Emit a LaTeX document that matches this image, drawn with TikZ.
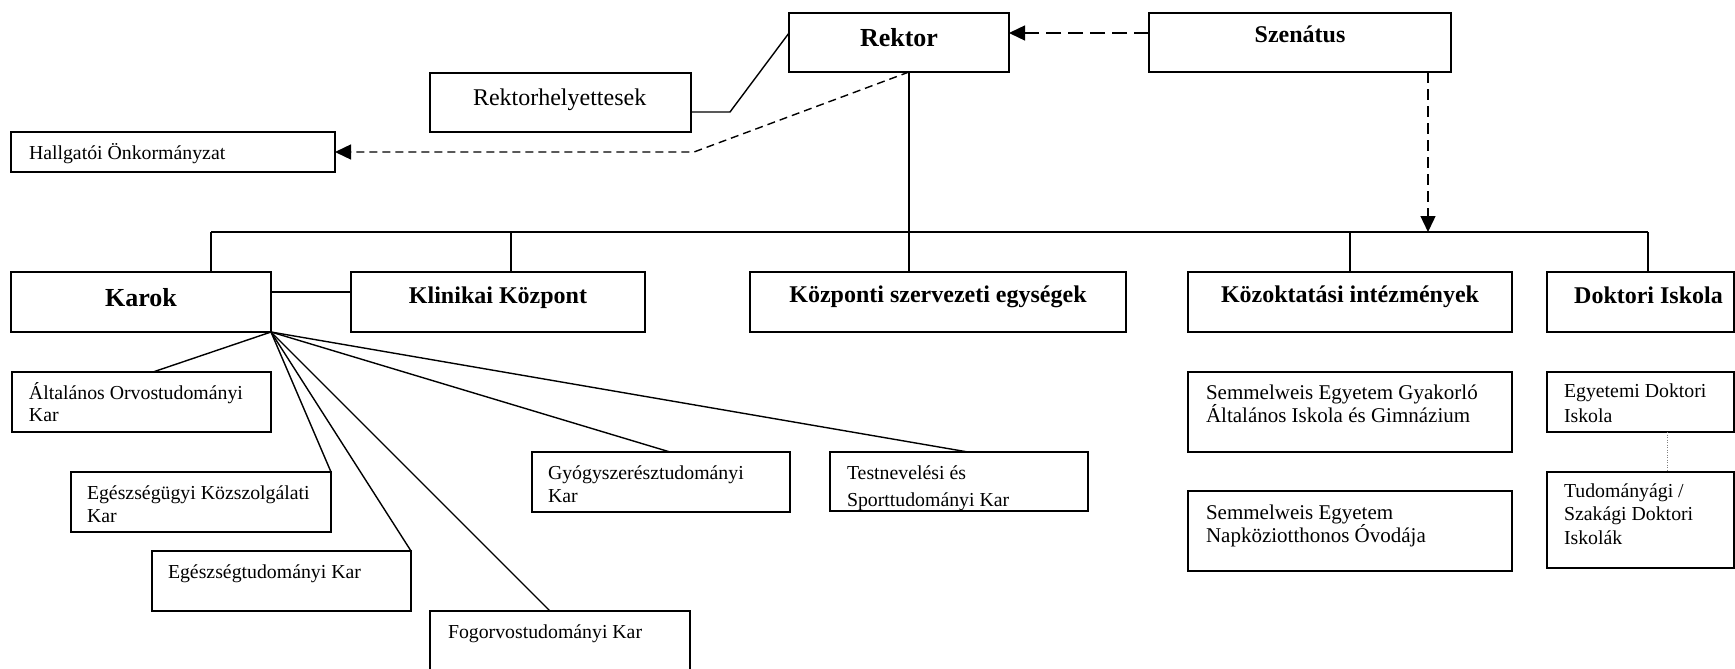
\documentclass[tikz,border=0pt]{standalone}
\usepackage{fontspec}
\setmainfont{Liberation Serif}
\usetikzlibrary{arrows.meta}

% left-aligned cell: width, height, first baseline, left pad, line skip, text
\newcommand\leftcell[6]{\begin{minipage}[t][#2pt][t]{#1pt}\raggedright\leftskip=#4pt\relax\baselineskip=#5pt\relax\rule{0pt}{#3pt}#6\par\end{minipage}}
% centred cell: width, height, first baseline, text
\newcommand\midcell[4]{\begin{minipage}[t][#2pt][t]{#1pt}\centering\rule{0pt}{#3pt}#4\par\end{minipage}}

\begin{document}
\begin{tikzpicture}[x=1pt,y=-1pt,
  box/.style={draw, line width=1.8pt, inner sep=0pt, outer sep=0pt, anchor=north west},
  head/.style={box, font=\bfseries\fontsize{24}{28}\selectfont},
  headbig/.style={box, font=\bfseries\fontsize{26}{30}\selectfont},
  unit/.style={box, font=\fontsize{19.8}{23}\selectfont},
  school/.style={box, font=\fontsize{21}{23}\selectfont},
  link/.style={line width=1.4pt},
  tip/.style={-{Triangle[length=16pt,width=15pt]}},
  shortdash/.style={link, dash pattern=on 8pt off 5pt},
  longdash/.style={link, dash pattern=on 15pt off 7pt},
  middash/.style={link, dash pattern=on 11pt off 6pt},
  dotlink/.style={line width=1pt, gray, dash pattern=on 1pt off 1.5pt}]

\useasboundingbox (0,0) rectangle (1735,669);
\fill[white] (0,0) rectangle (1735,669);

% top level
\node[headbig] (rk) at (789,13) {\midcell{220}{59}{34}{Rektor}};
\node[head] (sz) at (1149,13) {\midcell{302}{59}{30}{Szenátus}};
\node[box, font=\fontsize{24}{28}\selectfont] (rh) at (430,73) {\leftcell{261}{59}{32}{43}{28}{Rektorhelyettesek}};
\node[unit] (ho) at (11,132) {\leftcell{324}{40}{27}{18}{23}{Hallgatói Önkormányzat}};

% second level
\node[headbig] (ka) at (11,272) {\midcell{260}{60}{34}{Karok}};
\node[head] (kk) at (351,272) {\midcell{294}{60}{31}{Klinikai Központ}};
\node[head] (kp) at (750,272) {\midcell{376}{60}{30}{Központi szervezeti egységek}};
\node[head] (ko) at (1188,272) {\midcell{324}{60}{30}{Közoktatási intézmények}};
\node[head] (di) at (1547,272) {\midcell{187}{60}{31}{\hspace*{16pt}Doktori Iskola}};

% faculties
\node[unit] (ao) at (12,372) {\leftcell{259}{60}{27}{17}{22}{Általános Orvostudományi\\Kar}};
\node[unit] (ek) at (71,472) {\leftcell{260}{60}{27}{16}{23}{Egészségügyi Közszolgálati\\Kar}};
\node[unit] (et) at (152,551) {\leftcell{259}{60}{27}{16}{23}{Egészségtudományi Kar}};
\node[unit] (fo) at (430,611) {\leftcell{260}{60}{27}{18}{23}{Fogorvostudományi Kar}};
\node[unit] (gy) at (532,452) {\leftcell{258}{60}{27}{16}{23}{Gyógyszerésztudományi\\Kar}};
\node[unit] (tn) at (830,452) {\leftcell{258}{59}{27}{17}{27}{Testnevelési és\\Sporttudományi Kar}};

% schools
\node[school] (sg) at (1188,372) {\leftcell{324}{80}{27}{18}{22.5}{Semmelweis Egyetem Gyakorló\\Általános Iskola és Gimnázium}};
\node[school] (sn) at (1188,491) {\leftcell{324}{80}{28}{18}{22.5}{Semmelweis Egyetem\\Napköziotthonos Óvodája}};
\node[unit] (ed) at (1547,372) {\leftcell{187}{60}{25}{17}{25}{Egyetemi Doktori\\Iskola}};
\node[unit] (td) at (1547,472) {\leftcell{187}{96}{25}{17}{23.5}{Tudományági /\\Szakági Doktori\\Iskolák}};

% junction points
\coordinate (trunk) at (909,232);
\coordinate (busL) at (211,232);
\coordinate (busR) at (1648,232);
\coordinate (dropK) at (511,232);
\coordinate (senx) at (1428,232);
\coordinate (rhbend) at (730,112);
\coordinate (hobend) at (694,152);

% hierarchy bus
\draw[link] (busL) -- (busR);
\draw[link] (rk.south -| trunk) -- (kp.north -| trunk);
\draw[link] (busL) -- (ka.north -| busL);
\draw[link] (dropK) -- (kk.north -| dropK);
\draw[link] (ko.north |- busL) -- (ko.north);
\draw[link] (busR) -- (di.north -| busR);
\draw[link] ([yshift=10pt]ka.east) -- ([yshift=10pt]kk.west);

% around the rector
\draw[link] (rh.east |- rhbend) -- (rhbend) -- ([yshift=9.5pt]rk.west);
\draw[shortdash, tip] (rk.south -| trunk) -- (hobend) -- (ho.east);
\draw[longdash, tip] ([yshift=9.5pt]sz.west) -- ([yshift=9.5pt]rk.east);
\draw[middash, tip] (sz.south -| senx) -- (senx);

% faculty fan
\draw[link] (ka.south east) -- ([xshift=11.5pt]ao.north);
\draw[link] (ka.south east) -- (ek.north east);
\draw[link] (ka.south east) -- (et.north east);
\draw[link] (ka.south east) -- ([xshift=-10pt]fo.north);
\draw[link] (ka.south east) -- ([xshift=9pt]gy.north);
\draw[link] (ka.south east) -- ([xshift=9pt]tn.north);

% doctoral schools
\draw[dotlink] ([xshift=26.5pt]ed.south) -- ([xshift=26.5pt]td.north);
\end{tikzpicture}
\end{document}
